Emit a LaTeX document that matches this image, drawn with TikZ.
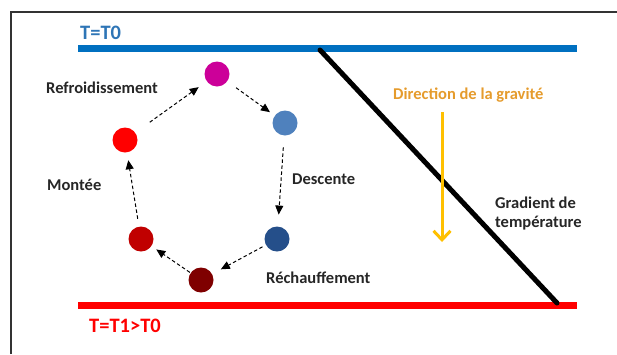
\documentclass[tikz,border=0pt]{standalone}
\usepackage{fontspec}
\setmainfont{Carlito}
\usetikzlibrary{arrows.meta}
\definecolor{barblue}{HTML}{0070C0}
\definecolor{tblue}{HTML}{2E75B6}
\definecolor{gold}{HTML}{FFC000}
\definecolor{goldtext}{HTML}{E59B2C}
\definecolor{labelgray}{HTML}{262626}
\definecolor{cmagenta}{HTML}{CC0099}
\definecolor{clightblue}{HTML}{4F81BD}
\definecolor{cdarkblue}{HTML}{254F8A}
\definecolor{cred}{HTML}{FF0000}
\definecolor{cdarkred}{HTML}{C00000}
\definecolor{cbrown}{HTML}{7F0000}
\definecolor{framegray}{HTML}{333333}
\tikzset{
  parcel/.style={circle, minimum size=25pt, inner sep=0pt, outer sep=0pt},
  flow/.style={draw=black, line width=1pt, dash pattern=on 3.5pt off 2.5pt,
    -{Triangle[length=9pt,width=8pt]}},
  lbl/.style={anchor=base west, inner sep=0pt, text=labelgray,
    font=\fontsize{16.5}{19.5}\selectfont\bfseries},
  tlbl/.style={anchor=base west, inner sep=0pt,
    font=\fontsize{20.5}{24}\selectfont\bfseries}
}
\begin{document}
\begin{tikzpicture}[x=1pt,y=-1pt]
\useasboundingbox (0,0) rectangle (617,354);
% frame
\draw[framegray, line width=1.2pt] (11,354) -- (11,12) -- (617,12);
% bars
\fill[barblue] (78,45) rectangle (577,52);
\fill[cred] (78,302) rectangle (577,309);
\node[tlbl, text=tblue] (t0) at (80,39.5) {T=T0};
\node[tlbl, text=cred] (t1) at (89,332) {T=T1>T0};
% gradient line
\coordinate (gtop) at (320,50);
\coordinate (gbot) at (557,303);
\draw[black, line width=5pt, line cap=round] (gtop) -- (gbot);
\node[lbl, align=left] (grad) at (495,227.5) {Gradient de\\température};
% gravity
\coordinate (gstart) at (442,112);
\coordinate (gend) at (442,242);
\draw[gold, line width=3pt, -{Straight Barb[length=9pt,width=17pt]}] (gstart) -- (gend);
\node[lbl, text=goldtext] (dir) at (393,99) {Direction de la gravité};
% parcels
\node[parcel, fill=cmagenta] (mag) at (217,74) {};
\node[parcel, fill=clightblue] (lb) at (285,123) {};
\node[parcel, fill=cdarkblue] (db) at (277,239) {};
\node[parcel, fill=cbrown] (br) at (201,280) {};
\node[parcel, fill=cdarkred] (dr) at (141,239) {};
\node[parcel, fill=cred] (rd) at (125,140) {};
% cycle arrows
\draw[flow, shorten <=18pt, shorten >=10pt] (rd) -- (mag);
\draw[flow, shorten <=11pt, shorten >=6pt] (mag) -- (lb);
\draw[flow, shorten <=12pt, shorten >=12pt] (lb) -- (db);
\draw[flow, shorten <=4pt, shorten >=10pt] (db) -- (br);
\draw[flow, shorten <=1pt, shorten >=6pt] (br) -- (dr);
\draw[flow, shorten <=8pt, shorten >=8pt] (dr) -- (rd);
% labels
\node[lbl] (refr) at (46,93) {Refroidissement};
\node[lbl] (mont) at (47,190) {Montée};
\node[lbl] (desc) at (292,184) {Descente};
\node[lbl] (rech) at (266,283) {Réchauffement};
\end{tikzpicture}
\end{document}
